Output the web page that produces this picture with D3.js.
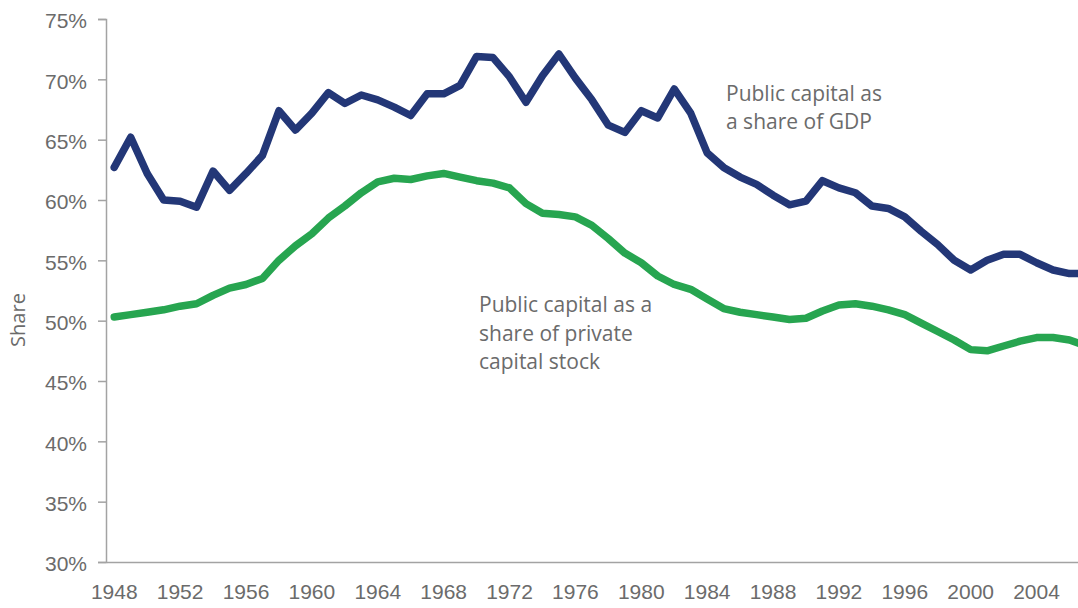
<!DOCTYPE html>
<html>
<head>
<meta charset="utf-8">
<script src="https://cdn.jsdelivr.net/npm/d3@7"></script>
<style>
  body { margin: 0; background: #fff; }
  svg { display: block; font-family: "Open Sans", sans-serif; }
  .axis text { fill: #6b6b6b; font-size: 21px; }
  .axis path, .axis line { stroke: #a3a3a3; stroke-width: 1.5; }
  .note { fill: #6b6b6b; font-size: 21px; }
</style>
</head>
<body>
<svg></svg>
<script>
let vWidth = 1078,
  vHeight = 608;

// data
var years = d3.range(1948, 2008);
var gdpShare = [
  62.7, 65.2, 62.2, 60.0, 59.9, 59.4, 62.4, 60.8, 62.2, 63.7,
  67.4, 65.8, 67.2, 68.9, 68.0, 68.7, 68.3, 67.7, 67.0, 68.8,
  68.8, 69.5, 71.9, 71.8, 70.2, 68.1, 70.3, 72.1, 70.1, 68.3,
  66.2, 65.6, 67.4, 66.8, 69.2, 67.2, 63.9, 62.7, 61.9, 61.3,
  60.4, 59.6, 59.9, 61.6, 61.0, 60.6, 59.5, 59.3, 58.6, 57.4,
  56.3, 55.0, 54.2, 55.0, 55.5, 55.5, 54.8, 54.2, 53.9, 53.9
];
var privateShare = [
  50.3, 50.5, 50.7, 50.9, 51.2, 51.4, 52.1, 52.7, 53.0, 53.5,
  55.0, 56.2, 57.2, 58.5, 59.5, 60.6, 61.5, 61.8, 61.7, 62.0,
  62.2, 61.9, 61.6, 61.4, 61.0, 59.7, 58.9, 58.8, 58.6, 57.9,
  56.8, 55.6, 54.8, 53.7, 53.0, 52.6, 51.8, 51.0, 50.7, 50.5,
  50.3, 50.1, 50.2, 50.8, 51.3, 51.4, 51.2, 50.9, 50.5, 49.8,
  49.1, 48.4, 47.6, 47.5, 47.9, 48.3, 48.6, 48.6, 48.4, 47.9
];
var yTicks = [30, 35, 40, 45, 50, 55, 60, 65, 70, 75];
var xTicks = d3.range(1948, 2005, 4);
var gdpLabel = ['Public capital as', 'a share of GDP'];
var privateLabel = ['Public capital as a', 'share of private', 'capital stock'];

var svg = d3.select('svg')
  .attr('width', vWidth)
  .attr('height', vHeight);

// plot runs past the right edge, the last year is cut off like the original
var x = d3.scaleBand()
  .domain(years)
  .range([106, 106 + years.length * 16.47]);

var y = d3.scaleLinear()
  .domain([30, 75])
  .range([562, 19]);

function xMid(yr) { return x(yr) + x.bandwidth() / 2; }

//axes
svg.append('g')
  .attr('class', 'axis')
  .attr('transform', 'translate(106,0)')
  .call(d3.axisLeft(y).tickValues(yTicks).tickSize(8).tickPadding(11)
    .tickFormat(function (d) { return d + '%'; }))
  .call(function (g) { g.selectAll('text').attr('dy', '0.42em'); });

svg.append('g')
  .attr('class', 'axis')
  .attr('transform', 'translate(0,562)')
  .call(d3.axisBottom(x).tickValues(xTicks).tickSize(0).tickPadding(22)
    .tickSizeOuter(0))
  .call(function (g) { g.selectAll('.tick line').remove(); });

svg.append('text')
  .attr('class', 'note')
  .attr('transform', 'translate(25,320)rotate(-90)')
  .attr('text-anchor', 'middle')
  .style('font-size', '20px')
  .text('Share');

//lines
var line = d3.line()
  .x(function (d, i) { return xMid(years[i]); })
  .y(function (d) { return y(d); });

svg.append('path')
  .datum(privateShare)
  .attr('d', line)
  .attr('fill', 'none')
  .attr('stroke', '#27a550')
  .attr('stroke-width', 7.5)
  .attr('stroke-linejoin', 'round')
  .attr('stroke-linecap', 'round');

svg.append('path')
  .datum(gdpShare)
  .attr('d', line)
  .attr('fill', 'none')
  .attr('stroke', '#233777')
  .attr('stroke-width', 7.5)
  .attr('stroke-linejoin', 'round')
  .attr('stroke-linecap', 'round');

//annotations
svg.append('text')
  .attr('class', 'note')
  .attr('x', 726)
  .attr('y', 101)
  .selectAll('tspan')
  .data(gdpLabel)
  .enter()
  .append('tspan')
  .attr('x', 726)
  .attr('dy', function (d, i) { return i ? 28 : 0; })
  .text(function (d) { return d; });

svg.append('text')
  .attr('class', 'note')
  .attr('x', 479)
  .attr('y', 312)
  .selectAll('tspan')
  .data(privateLabel)
  .enter()
  .append('tspan')
  .attr('x', 479)
  .attr('dy', function (d, i) { return i ? 28.5 : 0; })
  .text(function (d) { return d; });
</script>
</body>
</html>
